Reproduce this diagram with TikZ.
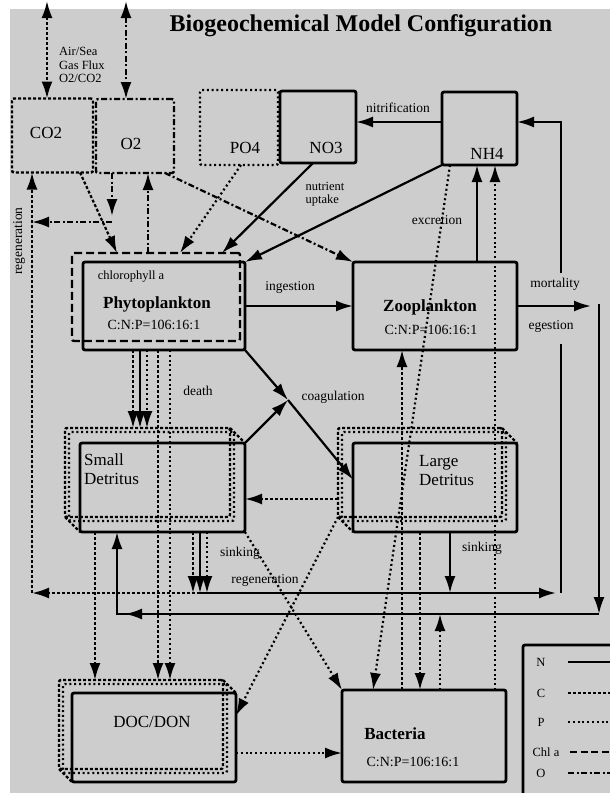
\documentclass[tikz,border=0pt]{standalone}
\usepackage{fontspec}
\setmainfont{Liberation Serif}
\usetikzlibrary{arrows.meta}

\definecolor{bggray}{RGB}{205,205,205}

\tikzset{
  flux/.style={line width=2.2pt},
  nflux/.style={flux},
  cflux/.style={flux, dash pattern=on 3pt off 2pt},
  pflux/.style={flux, dash pattern=on 2pt off 2.8pt},
  chlflux/.style={flux, dash pattern=on 7pt off 3.5pt},
  oflux/.style={flux, dash pattern=on 6pt off 2.5pt on 2pt off 2.5pt},
  compbox/.style={draw, line width=2.8pt, rounded corners=2pt, inner sep=0pt, outer sep=0pt},
  cbox/.style={compbox, line width=2.4pt, dash pattern=on 3pt off 2pt},
  pbox/.style={compbox, line width=2.4pt, dash pattern=on 2pt off 2.8pt},
  chlbox/.style={compbox, line width=2.4pt, dash pattern=on 8pt off 4pt},
  obox/.style={compbox, line width=2.4pt, dash pattern=on 6pt off 2.5pt on 2pt off 2.5pt},
  boxlab/.style={font=\fontsize{17}{19}\selectfont, inner sep=0pt, align=left},
  boldlab/.style={font=\fontsize{17}{19}\selectfont\bfseries, inner sep=0pt},
  ratiolab/.style={font=\fontsize{14}{16}\selectfont, inner sep=0pt},
  lab/.style={font=\fontsize{13.5}{15}\selectfont, inner sep=0pt},
  smalllab/.style={font=\fontsize{12.5}{13.5}\selectfont, inner sep=0pt, align=left},
}

\begin{document}
\begin{tikzpicture}[x=1pt, y=-1pt, >={Latex[length=17pt,width=11pt]}]
\useasboundingbox (0,0) rectangle (610,793);
\fill[bggray] (10,9) rectangle (610,793);

\node[font=\fontsize{24}{28}\selectfont\bfseries] (title) at (361,26) {Biogeochemical Model Configuration};

% compartments
\node[cbox, minimum width=81pt, minimum height=74pt] (co2) at (52.5,135.5) {};
\node[obox, minimum width=78pt, minimum height=74pt] (o2) at (135,136) {};
\node[pbox, minimum width=78pt, minimum height=75pt] (po4) at (239,127.5) {};
\node[compbox, minimum width=76pt, minimum height=72pt] (no3) at (318,127) {};
\node[compbox, minimum width=75pt, minimum height=73pt] (nh4) at (479.5,128.5) {};
\node[compbox, minimum width=162pt, minimum height=88pt] (phyto) at (164,306) {};
\node[chlbox, minimum width=168pt, minimum height=88pt] (phytochl) at (156,297) {};
\node[compbox, minimum width=164pt, minimum height=88pt] (zoo) at (435,306) {};
\node[compbox, minimum width=165pt, minimum height=89pt] (sdet) at (162.5,487.5) {};
\node[cbox, minimum width=165pt, minimum height=89pt] (sdetc) at ([shift={(-15pt,15pt)}]sdet.center) {};
\node[pbox, minimum width=165pt, minimum height=89pt] (sdetp) at ([shift={(-11pt,11pt)}]sdet.center) {};
\node[compbox, minimum width=164pt, minimum height=89pt] (ldet) at (435,487.5) {};
\node[cbox, minimum width=164pt, minimum height=89pt] (ldetc) at ([shift={(-15pt,15pt)}]ldet.center) {};
\node[pbox, minimum width=164pt, minimum height=89pt] (ldetp) at ([shift={(-11pt,11pt)}]ldet.center) {};
\node[compbox, minimum width=164pt, minimum height=89pt] (doc) at (154,737.5) {};
\node[cbox, minimum width=164pt, minimum height=89pt] (docc) at ([shift={(-13pt,13pt)}]doc.center) {};
\node[pbox, minimum width=164pt, minimum height=89pt] (docp) at ([shift={(-9pt,9pt)}]doc.center) {};
\node[compbox, minimum width=164pt, minimum height=92pt] (bact) at (424,736) {};

\draw[cflux] (sdetc.north east) -- (sdet.north east);
\draw[cflux] (sdetc.south west) -- (sdet.south west);
\draw[cflux] (ldetc.north east) -- (ldet.north east);
\draw[cflux] (ldetc.south west) -- (ldet.south west);
\draw[cflux] (docc.north east) -- (doc.north east);
\draw[cflux] (docc.south west) -- (doc.south west);

% compartment texts
\node[boxlab] (co2txt) at (46,133) {CO2};
\node[boxlab] (o2txt) at (131,144) {O2};
\node[boxlab] (po4txt) at (245,148) {PO4};
\node[boxlab] (no3txt) at (326,148) {NO3};
\node[boxlab] (nh4txt) at (487,154) {NH4};
\node[smalllab] (chltxt) at (131,277) {chlorophyll a};
\node[boldlab] (phytotxt) at (157,304) {Phytoplankton};
\node[ratiolab] (phytocnp) at (154,325) {C:N:P=106:16:1};
\node[boldlab] (zootxt) at (430,307) {Zooplankton};
\node[ratiolab] (zoocnp) at (431,330) {C:N:P=106:16:1};
\node[boxlab, anchor=west] (sdettxt) at (84,469) {Small\\Detritus};
\node[boxlab, anchor=west] (ldettxt) at (419,471) {Large\\Detritus};
\node[boxlab] (doctxt) at (152,722) {DOC/DON};
\node[boldlab] (bacttxt) at (395,734) {Bacteria};
\node[ratiolab] (bactcnp) at (413,762) {C:N:P=106:16:1};

% flux labels
\node[smalllab, anchor=west] (airsea) at (59,65) {Air/Sea\\Gas Flux\\O2/CO2};
\node[lab] (lnitr) at (398,108) {nitrification};
\node[smalllab, align=left] (lupt) at (325,194) {nutrient\\uptake};
\node[lab] (lexcr) at (437,220) {excretion};
\node[lab] (lingest) at (290,287) {ingestion};
\node[lab] (lmort) at (555,284) {mortality};
\node[lab] (legest) at (551,326) {egestion};
\node[lab] (ldeath) at (198,391) {death};
\node[lab] (lcoag) at (333,397) {coagulation};
\node[lab] (lsinkl) at (240,553) {sinking};
\node[lab] (lsinkr) at (482,548) {sinking};
\node[lab] (lregen) at (265,580) {regeneration};
\node[lab, rotate=90] (lregv) at (19,241) {regeneration};

% columns and corners
\coordinate (xreg) at (32,0);
\coordinate (xco2up) at (47,0);
\coordinate (xo2up) at (126,0);
\coordinate (xo2dn) at (112,0);
\coordinate (xco2dg) at (80,0);
\coordinate (xphyc) at (117,0);
\coordinate (xphyo) at (148,0);
\coordinate (xpo4dg) at (241,0);
\coordinate (xphyp) at (180,0);
\coordinate (xno3dg) at (313,0);
\coordinate (xphyn) at (222,0);
\coordinate (xo2dg) at (165,0);
\coordinate (xdthc) at (133,0);
\coordinate (xdthn) at (140,0);
\coordinate (xdthp) at (147,0);
\coordinate (xdocc) at (158,0);
\coordinate (xdocp) at (170,0);
\coordinate (xsdoc) at (95,0);
\coordinate (xsinkc) at (193,0);
\coordinate (xsinkp) at (207,0);
\coordinate (xlsink) at (450,0);
\coordinate (xnhb) at (450,0);
\coordinate (xbnhb) at (373,0);
\coordinate (xbzoo) at (402,0);
\coordinate (xldb) at (420,0);
\coordinate (xbdet) at (440,0);
\coordinate (xbnh) at (495,0);
\coordinate (xexc) at (477,0);
\coordinate (nitr) at (0,122);
\coordinate (ldsd) at (0,499);
\coordinate (docbact) at (0,753);
\coordinate (o2reg) at (112,222);
\coordinate (regbot) at (32,593);
\coordinate (sinkjoin) at (200,593);
\coordinate (rtop) at (561,122);
\coordinate (mtop) at (599,304);
\coordinate (mbot) at (599,614);
\coordinate (mleft) at (117,614);
\coordinate (coag) at (288,400);

% air/sea exchange
\draw[cflux,<->] ([yshift=-1pt]xco2up) -- (xco2up |- co2.north);
\draw[oflux,<->] ([yshift=-1pt]xo2up) -- (xo2up |- o2.north);

% carbon and oxygen
\draw[cflux,->] (xco2dg |- co2.south) -- (xphyc |- phytochl.north);
\draw[oflux,->] (xo2dn |- o2.south) -- ([yshift=6pt]o2reg);
\draw[oflux,->] (o2reg) -- (xreg |- o2reg);
\draw[oflux,->] (xphyo |- phytochl.north) -- (xphyo |- o2.south);
\draw[oflux,->] (xo2dg |- o2.south) -- (zoo.north west);
\draw[cflux,->] (regbot) -- (xreg |- co2.south);
\draw[cflux,->] (sinkjoin) -- (regbot);

% nutrients
\draw[pflux,->] (xpo4dg |- po4.south) -- (xphyp |- phytochl.north);
\draw[nflux,->] (xno3dg |- no3.south) -- (xphyn |- phytochl.north);
\draw[nflux,->] (nh4.south west) -- (phyto.north east);
\draw[nflux,->] (nh4.west |- nitr) -- (no3.east |- nitr);

% grazing and coagulation
\draw[nflux,->] (phyto.east) -- (zoo.west);
\draw[nflux,->] (phyto.south east) -- (coag);
\draw[nflux,->] (sdet.north east) -- (coag);
\draw[nflux,->] (coag) -- ([yshift=8pt]ldet.west);

% death
\draw[cflux,->] (xdthc |- phyto.south) -- (xdthc |- sdetc.north);
\draw[nflux,->] (xdthn |- phyto.south) -- (xdthn |- sdetc.north);
\draw[pflux,->] (xdthp |- phyto.south) -- (xdthp |- sdetc.north);
\draw[cflux,->] (xdocc |- phyto.south) -- (xdocc |- docc.north);
\draw[pflux,->] (xdocp |- phyto.south) -- (xdocp |- docc.north);

% detritus
\draw[cflux,->] (xsdoc |- sdet.south) -- (xsdoc |- docc.north);
\draw[cflux,->] (xsinkc |- sdet.south) -- (xsinkc |- sinkjoin);
\draw[nflux,->] (sinkjoin |- sdet.south) -- (sinkjoin);
\draw[pflux,->] (xsinkp |- sdet.south) -- (xsinkp |- sinkjoin);
\draw[nflux,->] (xlsink |- ldet.south) -- (xlsink |- sinkjoin);
\draw[cflux,->] (ldetc.west |- ldsd) -- (sdet.east |- ldsd);
\draw[pflux,->] (ldetc.south west) -- ([yshift=22pt]doc.east);
\draw[pflux,->] (sdet.south east) -- (bact.north west);

% bacteria
\draw[pflux,->] (doc.east |- docbact) -- (bact.west |- docbact);
\draw[pflux,->] (xnhb |- nh4.south) -- (xbnhb |- bact.north);
\draw[cflux,->] (xbzoo |- bact.north) -- (xbzoo |- zoo.south);
\draw[cflux,->] (xldb |- ldet.south) -- (xldb |- bact.north);
\draw[pflux,->] (xbdet |- bact.north) -- (xbdet |- mbot);
\draw[pflux,->] (xbnh |- bact.north) -- (xbnh |- nh4.south);
\draw[nflux,->] (xexc |- zoo.north) -- (xexc |- nh4.south);

% mortality and regeneration return
\draw[nflux,->] (zoo.east) -- ++(74,0);
\draw[nflux,->] (mtop) -- (mbot);
\draw[nflux,->] (mbot) -- (mleft) -- (mleft |- sdet.south);
\draw[nflux,->] ([xshift=33pt]mleft) -- ([xshift=8pt]mleft);
\draw[nflux,->] (sinkjoin) -- ([xshift=-5pt]rtop |- sinkjoin);
\draw[nflux] (rtop |- sinkjoin) -- ([yshift=-222pt]rtop);
\draw[nflux,->] ([yshift=-151pt]rtop) -- (rtop) -- (rtop -| nh4.east);

% legend
\node[compbox, anchor=north west, minimum width=95pt, minimum height=155pt] (legend) at (523,645) {};
\node[smalllab] (legn) at (541,662) {N};
\node[smalllab] (legc) at (541,693) {C};
\node[smalllab] (legp) at (541,722) {P};
\node[smalllab] (legchl) at (546,752) {Chl a};
\node[smalllab] (lego) at (541,773) {O};
\draw[nflux] (legn) ++(27,0) -- ++(45,0);
\draw[cflux] (legc) ++(27,0) -- ++(45,0);
\draw[pflux] (legp) ++(27,0) -- ++(45,0);
\draw[chlflux] (legchl) ++(24,0) -- ++(45,0);
\draw[oflux] (lego) ++(27,0) -- ++(45,0);
\end{tikzpicture}
\end{document}
